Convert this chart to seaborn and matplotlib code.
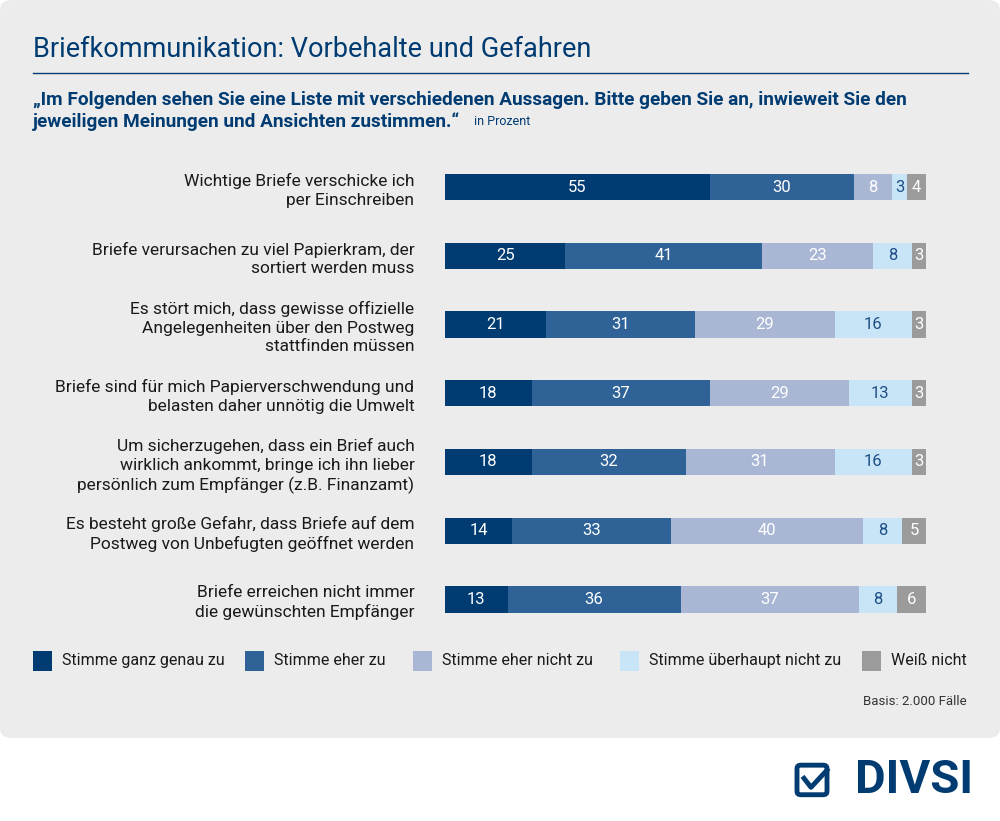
import matplotlib
matplotlib.use("Agg")
import matplotlib.pyplot as plt
import seaborn as sns
import numpy as np
from matplotlib.patches import FancyBboxPatch, Rectangle
from matplotlib.lines import Line2D

# data
statements = [
    "Wichtige Briefe verschicke ich\nper Einschreiben",
    "Briefe verursachen zu viel Papierkram, der\nsortiert werden muss",
    "Es stört mich, dass gewisse offizielle\nAngelegenheiten über den Postweg\nstattfinden müssen",
    "Briefe sind für mich Papierverschwendung und\nbelasten daher unnötig die Umwelt",
    "Um sicherzugehen, dass ein Brief auch\nwirklich ankommt, bringe ich ihn lieber\npersönlich zum Empfänger (z.B. Finanzamt)",
    "Es besteht große Gefahr, dass Briefe auf dem\nPostweg von Unbefugten geöffnet werden",
    "Briefe erreichen nicht immer\ndie gewünschten Empfänger",
]
ganz_genau = [55, 25, 21, 18, 18, 14, 13]
eher_zu = [30, 41, 31, 37, 32, 33, 36]
eher_nicht = [8, 23, 29, 29, 31, 40, 37]
ueberhaupt_nicht = [3, 8, 16, 13, 16, 8, 8]
weiss_nicht = [4, 3, 3, 3, 3, 5, 6]
series_names = ["Stimme ganz genau zu", "Stimme eher zu", "Stimme eher nicht zu",
                "Stimme überhaupt nicht zu", "Weiß nicht"]
colors = ["#003b71", "#2f6398", "#a9b7d5", "#c7e5f7", "#9b9b9b"]
text_colors = ["white", "white", "white", "#1f4f86", "white"]

plt.rcParams['font.family'] = ['Roboto', 'DejaVu Sans']
fig = plt.figure(figsize=(10, 8.21), dpi=100)

panel = FancyBboxPatch((0.0, 0.101), 1.0, 0.899, boxstyle="round,pad=0,rounding_size=0.012",
                       transform=fig.transFigure, facecolor="#ececec", edgecolor="none", zorder=-10)
fig.patches.append(panel)

fig.text(0.033, 0.940, "Briefkommunikation: Vorbehalte und Gefahren", fontsize=19.5,
         color="#003b71", va="center")
fig.add_artist(Line2D([0.033, 0.968], [0.911, 0.911], color="#003b71", lw=1,
                      transform=fig.transFigure))
fig.text(0.033, 0.878, "„Im Folgenden sehen Sie eine Liste mit verschiedenen Aussagen. Bitte geben Sie an, inwieweit Sie den",
         fontsize=13.7, fontweight="bold", color="#003b71", va="center")
fig.text(0.033, 0.852, "jeweiligen Meinungen und Ansichten zustimmen.“", fontsize=13.7,
         fontweight="bold", color="#003b71", va="center")
fig.text(0.474, 0.852, "in Prozent", fontsize=9, color="#003b71", va="center")

ax = fig.add_axes([0.445, 0.228, 0.481, 0.586])
ax.set_facecolor("none")
series = [ganz_genau, eher_zu, eher_nicht, ueberhaupt_nicht, weiss_nicht]
cum = np.cumsum(np.array(series), axis=0)
for i in range(len(series) - 1, -1, -1):
    sns.barplot(x=cum[i], y=list(range(len(statements))), orient="h", color=colors[i],
                width=0.38, ax=ax, saturation=1, edgecolor="none")
for i, s in enumerate(series):
    for j, v in enumerate(s):
        mid = cum[i][j] - v / 2
        ax.text(mid, j, str(v), ha="center", va="center", fontsize=12, color=text_colors[i])
ax.set_xlim(0, 100)
ax.set_ylim(len(statements) - 0.5, -0.5)
ax.set_yticks(range(len(statements)))
ax.set_yticklabels(statements, fontsize=12.5, color="#1a1a1a", ha="right", linespacing=1.3)
ax.tick_params(axis="y", length=0, pad=22)
ax.set_xticks([])
ax.set_xlabel("")
ax.set_ylabel("")
for sp in ax.spines.values():
    sp.set_visible(False)

# legend
leg_x = [0.033, 0.245, 0.413, 0.620, 0.862]
for x, name, c in zip(leg_x, series_names, colors):
    fig.add_artist(Rectangle((x, 0.183), 0.019, 0.024, transform=fig.transFigure,
                             facecolor=c, edgecolor="none", zorder=5))
    fig.text(x + 0.029, 0.195, name, fontsize=11.5, color="#1a1a1a", va="center")
fig.text(0.967, 0.146, "Basis: 2.000 Fälle", fontsize=9.5, color="#333333", ha="right", va="center")

# logo
fig.add_artist(FancyBboxPatch((0.797, 0.032), 0.030, 0.036, boxstyle="round,pad=0,rounding_size=0.004",
                              transform=fig.transFigure, facecolor="none", edgecolor="#003b71", lw=3.5))
fig.add_artist(Line2D([0.804, 0.811, 0.827], [0.052, 0.041, 0.062], color="#003b71", lw=3.5,
                      transform=fig.transFigure))
fig.text(0.973, 0.050, "DIVSI", fontsize=34, fontweight="bold", color="#003b71",
         ha="right", va="center")

fig.savefig("out.png", dpi=100)
